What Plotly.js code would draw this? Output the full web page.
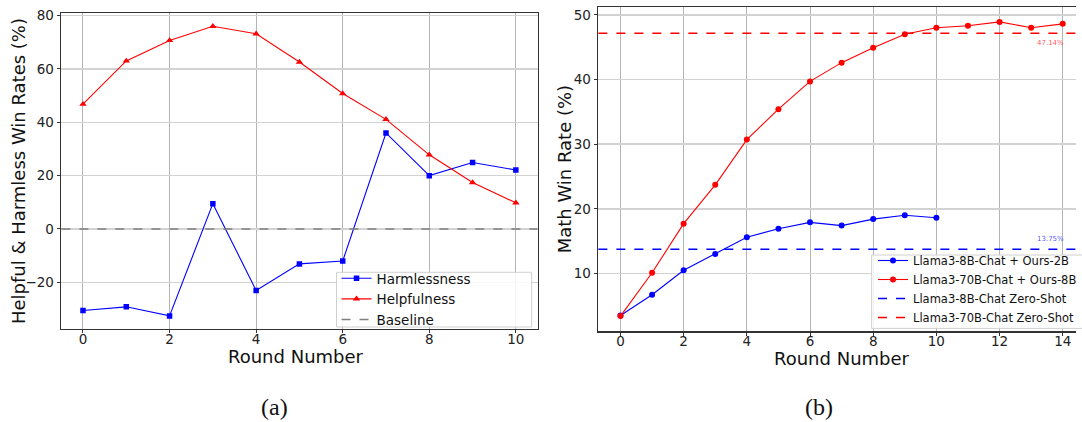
<!DOCTYPE html>
<html>
<head>
<meta charset="utf-8">
<script src="https://cdn.plot.ly/plotly-3.0.1.min.js"></script>
<style>html,body{margin:0;padding:0;background:#fff;}#chart{width:1082px;height:422px;}</style>
</head>
<body>
<div id="chart"></div>
<script>
// ---- Data ----
const roundsA = [0, 1, 2, 3, 4, 5, 6, 7, 8, 9, 10];
const harmlessness = [-30.6, -29.2, -32.6, 9.5, -23.1, -13.1, -12.0, 36.0, 20.0, 24.9, 22.1];
const helpfulness = [46.8, 63.0, 70.7, 76.0, 73.2, 62.6, 50.8, 41.1, 27.8, 17.4, 9.8];
const baselineValue = 0;

const roundsB8 = [0, 1, 2, 3, 4, 5, 6, 7, 8, 9, 10];
const llama8B = [3.5, 6.7, 10.5, 13.0, 15.6, 16.9, 17.9, 17.4, 18.4, 19.0, 18.6];
const roundsB70 = [0, 1, 2, 3, 4, 5, 6, 7, 8, 9, 10, 11, 12, 13, 14];
const llama70B = [3.4, 10.1, 17.7, 23.7, 30.7, 35.4, 39.7, 42.6, 44.9, 47.0, 48.0, 48.3, 48.9, 48.0, 48.6];
const zeroShot8B = 13.75;
const zeroShot70B = 47.14;

const W = 1082, H = 422;
const px = v => v / W;
const py = v => (H - v) / H;

const tickFont = {family: 'DejaVu Sans', size: 13.5, color: '#222'};
const titleFont = {family: 'DejaVu Sans', size: 18, color: '#111'};

const axisCommon = {
  showline: true, linecolor: '#333', linewidth: 1.2,
  ticks: 'outside', ticklen: 3.5, tickcolor: '#333', tickwidth: 1,
  tickfont: tickFont, zeroline: false, showgrid: true
};

const traces = [
  {x: roundsA, y: harmlessness, name: 'Harmlessness', mode: 'lines+markers',
   line: {color: '#0000ff', width: 1.1}, marker: {symbol: 'square', size: 5.5, color: '#0000ff'},
   xaxis: 'x', yaxis: 'y', legend: 'legend'},
  {x: roundsA, y: helpfulness, name: 'Helpfulness', mode: 'lines+markers',
   line: {color: '#ff0000', width: 1.1}, marker: {symbol: 'triangle-up', size: 6.5, color: '#ff0000'},
   xaxis: 'x', yaxis: 'y', legend: 'legend'},
  {x: roundsB8, y: llama8B, name: 'Llama3-8B-Chat + Ours-2B', mode: 'lines+markers',
   line: {color: '#0000ff', width: 1.1}, marker: {symbol: 'circle', size: 6, color: '#0000ff'},
   xaxis: 'x2', yaxis: 'y2', legend: 'legend2'},
  {x: roundsB70, y: llama70B, name: 'Llama3-70B-Chat + Ours-8B', mode: 'lines+markers',
   line: {color: '#ff0000', width: 1.1}, marker: {symbol: 'circle', size: 6, color: '#ff0000'},
   xaxis: 'x2', yaxis: 'y2', legend: 'legend2'}
];

const layout = {
  width: W, height: H,
  margin: {l: 0, r: 0, t: 0, b: 0},
  paper_bgcolor: '#fff', plot_bgcolor: '#fff',
  xaxis: Object.assign({}, axisCommon, {
    domain: [px(61.7), px(540.5)], anchor: 'y', range: [-0.5, 10.5],
    tickvals: [0, 2, 4, 6, 8, 10], mirror: true, gridcolor: '#b4b4b4', gridwidth: 1,
    ticklabelstandoff: -6
  }),
  yaxis: Object.assign({}, axisCommon, {
    domain: [py(328.7), py(12.7)], anchor: 'x', range: [-37.4, 81.1],
    tickvals: [-20, 0, 20, 40, 60, 80], mirror: true, gridcolor: '#d2d2d2', gridwidth: 1.5
  }),
  xaxis2: Object.assign({}, axisCommon, {
    domain: [px(601.7), 1], anchor: 'y2', range: [-0.7, 14.42],
    tickvals: [0, 2, 4, 6, 8, 10, 12, 14], mirror: true, gridcolor: '#b4b4b4', gridwidth: 1,
    ticklabelstandoff: -6
  }),
  yaxis2: Object.assign({}, axisCommon, {
    domain: [py(331.3), py(6.7)], anchor: 'x2', range: [1.05, 51.25],
    tickvals: [10, 20, 30, 40, 50], mirror: false, gridcolor: '#d2d2d2', gridwidth: 1.5
  }),
  legend: {
    x: px(338.4), y: py(335), xanchor: 'left', yanchor: 'bottom',
    bgcolor: 'rgba(0,0,0,0)', borderwidth: 0,
    font: {family: 'DejaVu Sans', size: 13.5, color: '#111'}
  },
  legend2: {
    x: px(878), y: py(332), xanchor: 'left', yanchor: 'bottom',
    bgcolor: 'rgba(0,0,0,0)', borderwidth: 0,
    font: {family: 'DejaVu Sans', size: 11.5, color: '#111'}
  },
  shapes: [
    // legend frames
    {type: 'rect', xref: 'paper', yref: 'paper', x0: px(338.4), x1: px(534.6), y0: py(327), y1: py(272.3),
     layer: 'above', fillcolor: 'rgba(255,255,255,0.85)', line: {color: '#d0d0d0', width: 1}},
    {type: 'rect', xref: 'paper', yref: 'paper', x0: px(876.5), x1: px(1090), y0: py(328.4), y1: py(255),
     layer: 'above', fillcolor: 'rgba(255,255,255,0.85)', line: {color: '#d0d0d0', width: 1}},
    {type: 'line', xref: 'x domain', yref: 'y', x0: 0, x1: 1, y0: baselineValue, y1: baselineValue,
     line: {color: '#808080', width: 1.5, dash: 'dash'}, showlegend: true, name: 'Baseline', legend: 'legend'},
    {type: 'line', xref: 'x2 domain', yref: 'y2', x0: 0, x1: 1, y0: zeroShot8B, y1: zeroShot8B,
     line: {color: '#0000ff', width: 1.5, dash: 'dash'}, showlegend: true, name: 'Llama3-8B-Chat Zero-Shot', legend: 'legend2'},
    {type: 'line', xref: 'x2 domain', yref: 'y2', x0: 0, x1: 1, y0: zeroShot70B, y1: zeroShot70B,
     line: {color: '#ff0000', width: 1.5, dash: 'dash'}, showlegend: true, name: 'Llama3-70B-Chat Zero-Shot', legend: 'legend2'}
  ],
  annotations: [
    {xref: 'x2', yref: 'y2', x: 14, y: zeroShot70B, text: zeroShot70B.toFixed(2) + '%', showarrow: false,
     xanchor: 'right', yanchor: 'middle', xshift: 3, yshift: -9.5, font: {family: 'DejaVu Sans', size: 7, color: 'rgba(255,0,0,0.7)'}},
    {xref: 'x2', yref: 'y2', x: 14, y: zeroShot8B, text: zeroShot8B.toFixed(2) + '%', showarrow: false,
     xanchor: 'right', yanchor: 'middle', xshift: 3, yshift: 10, font: {family: 'DejaVu Sans', size: 7, color: 'rgba(0,0,255,0.7)'}},
    // axis titles
    {xref: 'paper', yref: 'paper', x: px(297.8), y: py(356), text: 'Round Number', showarrow: false,
     xanchor: 'center', yanchor: 'middle', font: titleFont},
    {xref: 'paper', yref: 'paper', x: px(846.5), y: py(358.3), text: 'Round Number', showarrow: false,
     xanchor: 'center', yanchor: 'middle', font: titleFont},
    {xref: 'paper', yref: 'paper', x: px(18.5), y: py(170.7), text: 'Helpful &amp; Harmless Win Rates (%)', showarrow: false,
     textangle: -90, xanchor: 'center', yanchor: 'middle', font: titleFont},
    {xref: 'paper', yref: 'paper', x: px(567.5), y: py(169), text: 'Math Win Rate (%)', showarrow: false,
     textangle: -90, xanchor: 'center', yanchor: 'middle', font: titleFont},
    // captions
    {xref: 'paper', yref: 'paper', x: px(276), y: py(407), text: '(a)', showarrow: false,
     xanchor: 'center', yanchor: 'middle', font: {family: 'Liberation Serif', size: 24, color: '#111'}},
    {xref: 'paper', yref: 'paper', x: px(824), y: py(407), text: '(b)', showarrow: false,
     xanchor: 'center', yanchor: 'middle', font: {family: 'Liberation Serif', size: 24, color: '#111'}}
  ]
};

Plotly.newPlot('chart', traces, layout, {displayModeBar: false, staticPlot: true});
</script>
</body>
</html>
